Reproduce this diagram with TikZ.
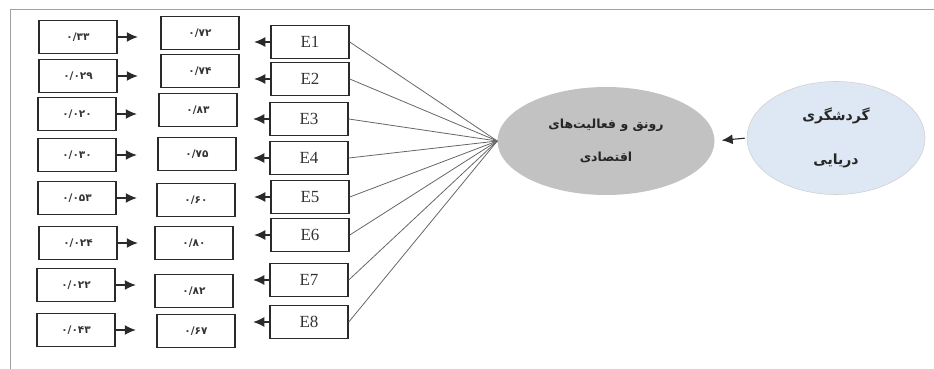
\documentclass[tikz,border=0pt]{standalone}
\usepackage{fontspec}
\setmainfont{Liberation Serif}
\newfontfamily\fa[Script=Arabic]{DejaVu Sans}
\newfontfamily\fanum{DejaVu Sans}
\TeXXeTstate=1
\usetikzlibrary{arrows.meta,shapes.geometric}
\definecolor{boxline}{HTML}{2A2A2A}
\definecolor{ellgray}{HTML}{C2C2C2}
\definecolor{ellblue}{HTML}{DEE8F5}
\definecolor{frameline}{HTML}{A0A0A0}
\tikzset{
  valbox/.style={draw=boxline, line width=1.5pt, minimum width=78pt, minimum height=33pt, inner sep=0pt, font=\fanum\bfseries\fontsize{10.5}{12}\selectfont, text=black!80},
  ebox/.style={draw=boxline, line width=1.5pt, minimum width=78pt, minimum height=33pt, inner sep=0pt, font=\fontsize{17}{19}\selectfont, text=black!80},
  arr/.style={draw=boxline, line width=1.1pt, -{Latex[length=11pt,width=10pt]}},
  spoke/.style={draw=black!60, line width=0.8pt},
  frame/.style={draw=frameline, line width=1pt}
}
\begin{document}
\begin{tikzpicture}[x=1pt,y=-1pt]
\useasboundingbox (0,0) rectangle (934,369);
\draw[frame] (10,369) -- (10,10) -- (934,10);
% left column
\node[valbox] (a1) at (78,37)  {۰/۳۳};
\node[valbox] (a2) at (78,76)  {۰/۰۲۹};
\node[valbox] (a3) at (77,114) {۰/۰۲۰};
\node[valbox] (a4) at (77,155) {۰/۰۳۰};
\node[valbox] (a5) at (77,198) {۰/۰۵۳};
\node[valbox] (a6) at (78,243) {۰/۰۲۴};
\node[valbox] (a7) at (76,285) {۰/۰۲۲};
\node[valbox] (a8) at (76,330) {۰/۰۴۳};
% middle column
\node[valbox] (m1) at (200,33)  {۰/۷۲};
\node[valbox] (m2) at (200,71)  {۰/۷۴};
\node[valbox] (m3) at (198,110) {۰/۸۳};
\node[valbox] (m4) at (197,154) {۰/۷۵};
\node[valbox] (m5) at (196,200) {۰/۶۰};
\node[valbox] (m6) at (194,243) {۰/۸۰};
\node[valbox] (m7) at (194,291) {۰/۸۲};
\node[valbox] (m8) at (196,331) {۰/۶۷};
% E column
\node[ebox] (e1) at (310,42)  {E1};
\node[ebox] (e2) at (310,79)  {E2};
\node[ebox] (e3) at (309,119) {E3};
\node[ebox] (e4) at (309,158) {E4};
\node[ebox] (e5) at (310,197) {E5};
\node[ebox] (e6) at (310,235) {E6};
\node[ebox] (e7) at (309,280) {E7};
\node[ebox] (e8) at (309,322) {E8};
% ellipses
\node[ellipse, fill=ellgray, minimum width=217pt, minimum height=108pt, inner sep=0pt, align=center, text=black!85, font=\fa\bfseries\fontsize{12.5}{14}\selectfont] (eco) at (606,141)
  {\beginR رونق و فعالیت‌های\endR\\[19pt]\beginR اقتصادی\endR};
\node[ellipse, fill=ellblue, draw=black!18, line width=0.6pt, minimum width=178pt, minimum height=113pt, inner sep=0pt, align=center, text=black!85, font=\fa\bfseries\fontsize{14}{16}\selectfont] (tour) at (836,138)
  {\beginR گردشگری\endR\\[28pt]\beginR دریایی\endR};
% arrows
\foreach \i in {1,...,8} {
  \draw[arr] (a\i.east) -- ++(20,0);
  \draw[arr] (e\i.west) -- ++(-16,0);
  \draw[spoke] (e\i.east) -- (eco.west);
}
\draw[arr, shorten <=2pt, shorten >=7pt] (tour.west) -- (eco.east);
\end{tikzpicture}
\end{document}
